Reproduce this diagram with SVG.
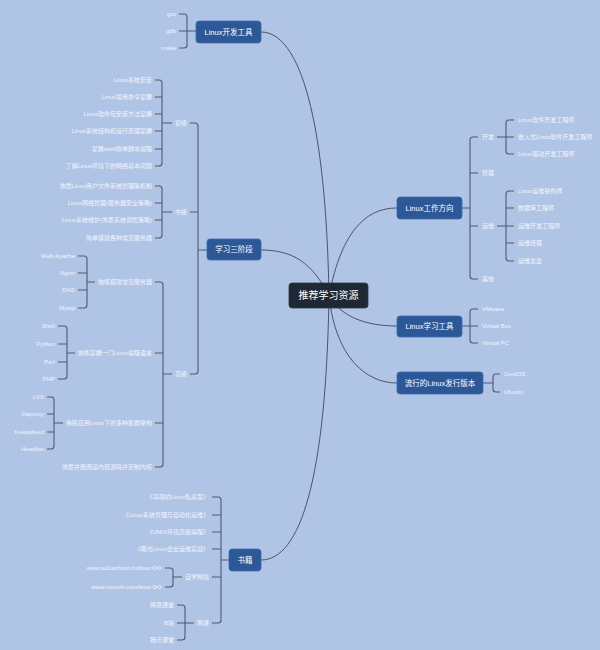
<svg xmlns="http://www.w3.org/2000/svg" width="600" height="650" viewBox="0 0 600 650">
<style>
.bg{fill:#b0c4e6}
.main{fill:none;stroke:#4a5568;stroke-width:1}
.br{fill:none;stroke:#4f5a6e;stroke-width:1.1}
.nd{fill:#2c5898;stroke:#3d6cb0;stroke-width:0.8}
.ct{fill:#1f2936;stroke:#2c3746;stroke-width:0.8}
text{font-family:"Liberation Sans","Noto Sans CJK SC",sans-serif;dominant-baseline:central}
.nt{font-size:7.5px;fill:#ffffff;text-anchor:middle}
.cx{font-size:10px;fill:#ffffff;text-anchor:middle}
.l{font-size:6px;fill:#f2f5fb;text-anchor:end}
.r{font-size:6px;fill:#f2f5fb;text-anchor:start}
.lk{fill:none;stroke:#f2f5fb;stroke-width:0.8}
</style>
<defs>
<g id="link"><circle class="lk" cx="0" cy="0" r="1.6"/><circle class="lk" cx="5" cy="0" r="1.6"/><line class="lk" x1="1.6" y1="0" x2="3.4" y2="0"/></g>
</defs>
<rect class="bg" x="0" y="0" width="600" height="650"/>
<g id="connectors">
<path class="main" d="M329,296C326,120 300,32 261,32"/>
<path class="main" d="M329,296C312,262 292,250 261,250"/>
<path class="main" d="M329,296C326,480 300,560 261,560"/>
<path class="main" d="M329,296C342,228 368,208 397,208"/>
<path class="main" d="M329,296C342,318 368,326 397,326"/>
<path class="main" d="M329,296C336,360 368,383 397,383"/>
<path class="br" d="M179,14H184Q187,14 187,17V45Q187,48 184,48H179M179,31H196"/>
<path class="br" d="M190,123H195Q198,123 198,126V371Q198,374 195,374H190M190,212H198M198,250H207"/>
<path class="br" d="M155,80H159Q162,80 162,83V163Q162,166 159,166H155M155,97H162M155,114H162M155,131H162M155,149H162M162,123H172"/>
<path class="br" d="M155,186H159Q162,186 162,189V235Q162,238 159,238H155M155,203H162M155,220H162M162,212H172"/>
<path class="br" d="M155,282H160Q163,282 163,285V464Q163,467 160,467H155M155,353H163M155,423H163M163,374H172"/>
<path class="br" d="M78,256H84Q87,256 87,259V305Q87,308 84,308H78M78,273H87M78,290H87M87,282H95"/>
<path class="br" d="M58,326H64Q67,326 67,329V376Q67,379 64,379H58M58,344H67M58,362H67M67,353H75"/>
<path class="br" d="M47,397H51Q54,397 54,400V446Q54,449 51,449H47M47,414H54M47,432H54M54,423H63"/>
<path class="br" d="M212,497H218Q221,497 221,500V620Q221,623 218,623H212M212,515H221M212,532H221M212,549H221M212,577H221M221,560H229"/>
<path class="br" d="M165,568H170Q173,568 173,571V584Q173,587 170,587H165M173,577H182"/>
<path class="br" d="M177,605H182Q185,605 185,608V637Q185,640 182,640H177M177,623H194"/>
<path class="br" d="M478,137H473Q470,137 470,140V276Q470,279 473,279H478M470,173H478M470,226H478M462,208H470"/>
<path class="br" d="M514,120H509Q506,120 506,123V151Q506,154 509,154H514M497,137H514"/>
<path class="br" d="M514,191H509Q506,191 506,194V258Q506,261 509,261H514M506,208H514M497,226H514M506,243H514"/>
<path class="br" d="M478,309H473Q470,309 470,312V340Q470,343 473,343H478M462,326H478"/>
<path class="br" d="M500,374H496Q493,374 493,377V389Q493,392 496,392H500M483,383H493"/>
</g>
<g id="center"><rect class="ct" x="289" y="283" width="79" height="25" rx="3"/><text class="cx" x="328.5" y="295.5">推荐学习资源</text></g>
<g id="devtools"><rect class="nd" x="196" y="21" width="65" height="22" rx="3"/><text class="nt" x="228.5" y="32">Linux开发工具</text>
<text class="l" x="176" y="14">gcc</text><text class="l" x="176" y="31">gdb</text><text class="l" x="176" y="48">make</text></g>
<g id="stages"><rect class="nd" x="207" y="239" width="54" height="21" rx="3"/><text class="nt" x="234" y="249.5">学习三阶段</text>
<text class="r" x="175" y="123">初级</text><text class="r" x="175" y="212">中级</text><text class="r" x="175" y="374">高级</text>
<text class="l" x="152" y="80">Linux系统安装</text>
<text class="l" x="152" y="97">Linux常用命令掌握</text>
<text class="l" x="152" y="114">Linux软件包安装方法掌握</text>
<text class="l" x="152" y="131">Linux系统结构和运行原理掌握</text>
<text class="l" x="152" y="149">掌握shell简单脚本编程</text>
<text class="l" x="152" y="166">了解Linux环境下的网络基本问题</text>
<text class="l" x="152" y="186">熟悉Linux用户文件系统管理等机制</text>
<text class="l" x="152" y="203">Linux网络管理(服务器安全策略)</text>
<text class="l" x="152" y="220">Linux系统维护(熟悉系统调优策略)</text>
<text class="l" x="152" y="238">简单搭建各种常见服务器</text>
<text class="l" x="152" y="282">熟练搭建常见服务器</text>
<text class="l" x="152" y="353">熟练掌握一门Linux编程语言</text>
<text class="l" x="152" y="423">熟练应用Linux下的多种集群架构</text>
<text class="l" x="152" y="467">熟悉并能阅读内核源码并定制内核</text>
<text class="l" x="75" y="256">Web Apache</text><text class="l" x="75" y="273">Nginx</text><text class="l" x="75" y="290">DNS</text><text class="l" x="75" y="308">Mysql</text>
<text class="l" x="55" y="326">Shell</text><text class="l" x="55" y="344">Python</text><text class="l" x="55" y="362">Perl</text><text class="l" x="55" y="379">PHP</text>
<text class="l" x="44" y="397">LVS</text><text class="l" x="44" y="414">Haproxy</text><text class="l" x="44" y="432">Keepalived</text><text class="l" x="44" y="449">Heartbet</text></g>
<g id="books"><rect class="nd" x="229" y="549" width="32" height="22" rx="3"/><text class="nt" x="245" y="560">书籍</text>
<text class="l" x="209" y="497">《鸟哥的Linux私房菜》</text>
<text class="l" x="209" y="515">《Linux系统管理与自动化运维》</text>
<text class="l" x="209" y="532">《UNIX环境高级编程》</text>
<text class="l" x="209" y="549">《曝光Linux企业运维实战》</text>
<text class="l" x="209" y="577">自学网站</text>
<text class="l" x="209" y="623">网课</text>
<text class="l" x="151" y="568">www.w3cschool.cn/linux</text><use href="#link" x="154.5" y="568"/>
<text class="l" x="151" y="587">www.runoob.com/linux</text><use href="#link" x="154.5" y="587"/>
<text class="l" x="174" y="605">网易课堂</text><text class="l" x="174" y="623">B站</text><text class="l" x="174" y="640">腾讯课堂</text></g>
<g id="jobs"><rect class="nd" x="397" y="197" width="65" height="22" rx="3"/><text class="nt" x="429.5" y="208">Linux工作方向</text>
<text class="r" x="482" y="137">开发</text><text class="r" x="482" y="173">管理</text><text class="r" x="482" y="226">运维</text><text class="r" x="482" y="279">其他</text>
<text class="r" x="518" y="120">Linux软件开发工程师</text><text class="r" x="518" y="137">嵌入式Linux软件开发工程师</text><text class="r" x="518" y="154">Linux驱动开发工程师</text>
<text class="r" x="518" y="191">Linux运维架构师</text><text class="r" x="518" y="208">数据库工程师</text><text class="r" x="518" y="226">运维开发工程师</text><text class="r" x="518" y="243">运维经理</text><text class="r" x="518" y="261">运维总监</text></g>
<g id="tools"><rect class="nd" x="397" y="316" width="65" height="21" rx="3"/><text class="nt" x="429.5" y="326.5">Linux学习工具</text>
<text class="r" x="482" y="309">VMware</text><text class="r" x="482" y="326">Virtual Box</text><text class="r" x="482" y="343">Virtual PC</text></g>
<g id="distros"><rect class="nd" x="397" y="372" width="86" height="22" rx="3"/><text class="nt" x="440" y="383">流行的Linux发行版本</text>
<text class="r" x="504" y="374">CentOS</text><text class="r" x="504" y="392">Ubuntu</text></g>
</svg>
